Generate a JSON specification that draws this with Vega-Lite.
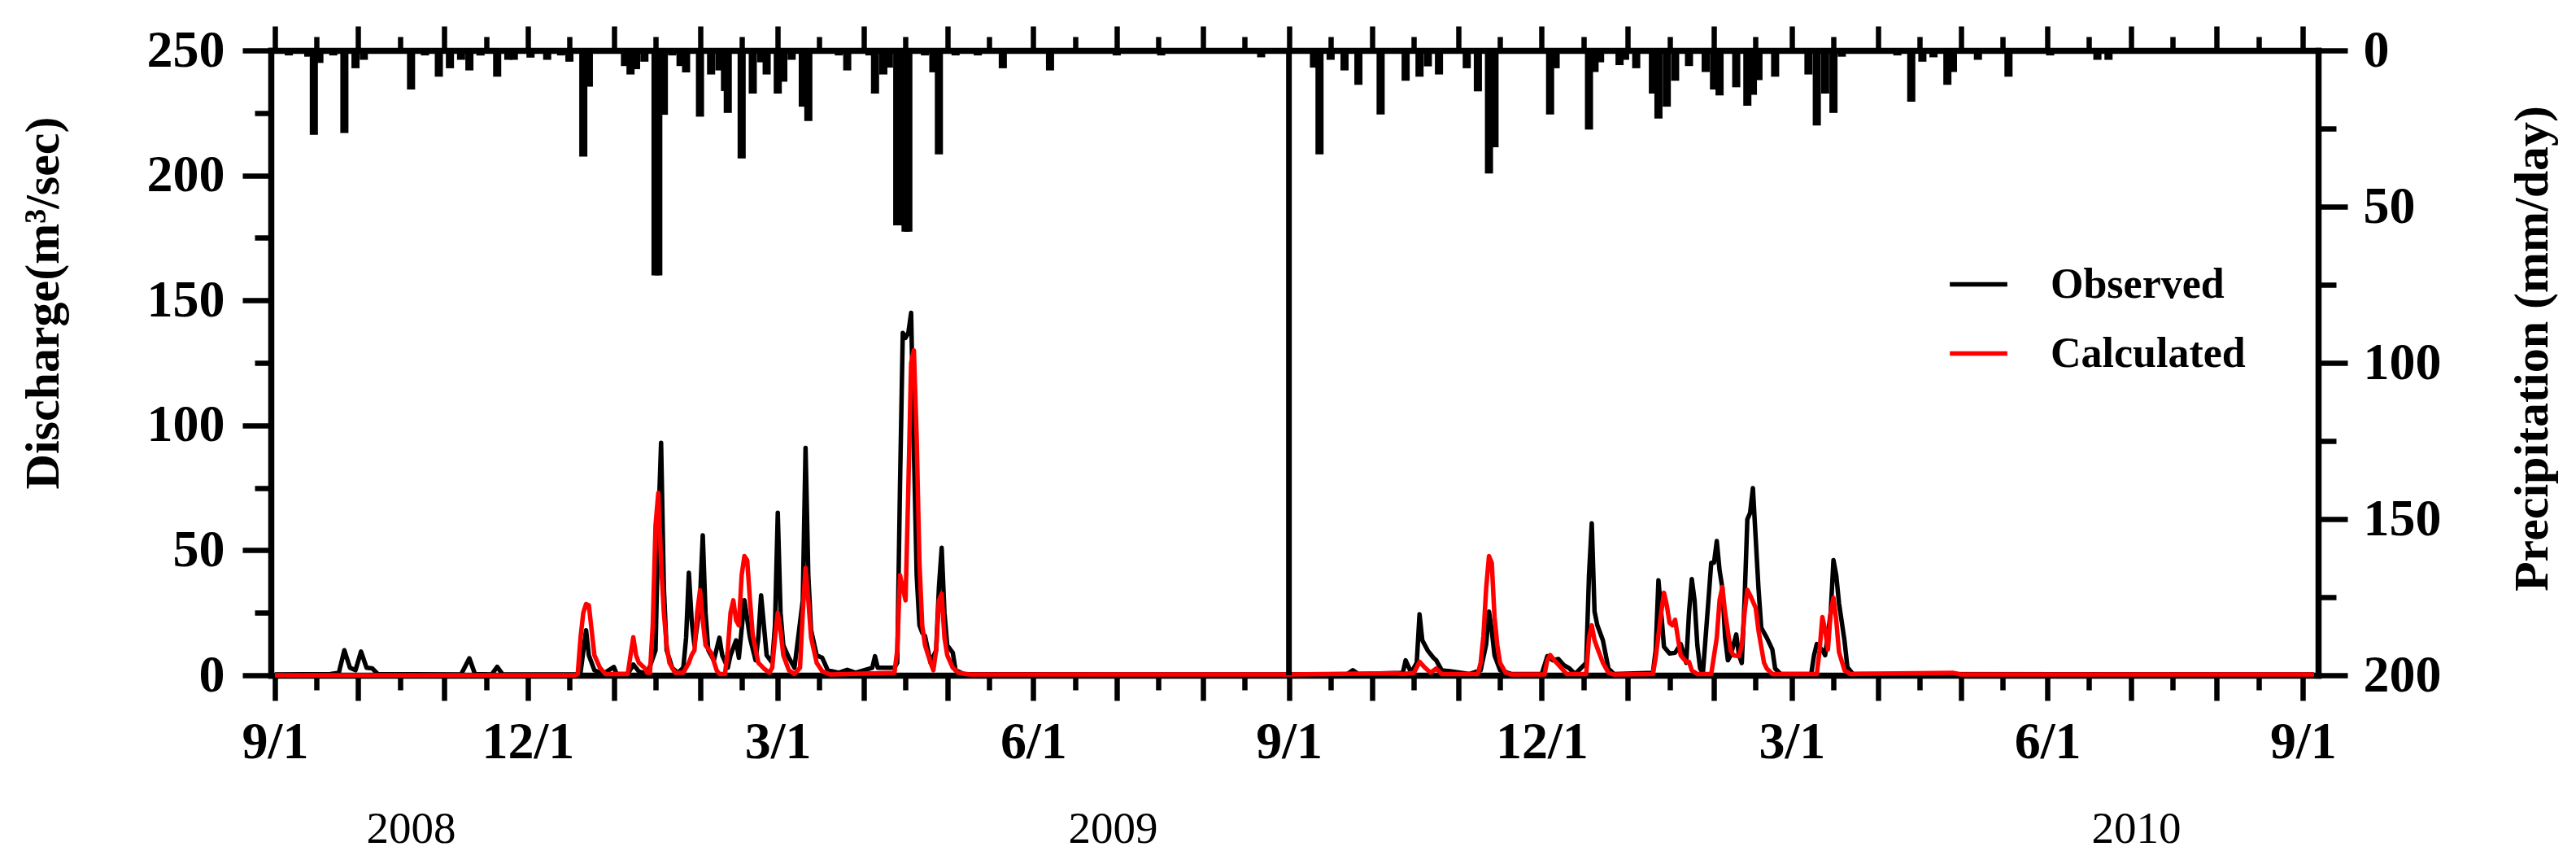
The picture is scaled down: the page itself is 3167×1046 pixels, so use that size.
{
  "$schema": "https://vega.github.io/schema/vega-lite/v6.json",
  "width": 2517,
  "height": 768,
  "autosize": "none",
  "padding": {"left": 333, "top": 62, "right": 317, "bottom": 216},
  "background": "#ffffff",
  "config": {
    "view": {"stroke": null},
    "axis": {
      "grid": false,
      "domainColor": "#000000",
      "tickColor": "#000000",
      "labelColor": "#000000",
      "titleColor": "#000000",
      "labelFont": "Liberation Serif",
      "titleFont": "Liberation Serif",
      "labelFontWeight": "bold",
      "titleFontWeight": "bold",
      "domainWidth": 7.5,
      "tickWidth": 6.5,
      "domainCap": "square",
      "labelOverlap": false,
      "labelFlush": false,
      "labelBound": false
    }
  },
  "datasets": {
    "rain": [
      {"date": "2008-09-06", "mm": 1.6}, {"date": "2008-09-13", "mm": 2}, {"date": "2008-09-15", "mm": 27}, {"date": "2008-09-17", "mm": 4},
      {"date": "2008-09-22", "mm": 1.6}, {"date": "2008-09-26", "mm": 26.4}, {"date": "2008-09-30", "mm": 5.7}, {"date": "2008-10-03", "mm": 3},
      {"date": "2008-10-20", "mm": 12.5}, {"date": "2008-10-25", "mm": 1.6}, {"date": "2008-10-30", "mm": 8.4}, {"date": "2008-11-03", "mm": 5.7},
      {"date": "2008-11-07", "mm": 3}, {"date": "2008-11-10", "mm": 6.4}, {"date": "2008-11-14", "mm": 1.6}, {"date": "2008-11-20", "mm": 8.4},
      {"date": "2008-11-24", "mm": 3}, {"date": "2008-11-26", "mm": 3}, {"date": "2008-12-02", "mm": 2.3}, {"date": "2008-12-08", "mm": 3},
      {"date": "2008-12-13", "mm": 1.6}, {"date": "2008-12-16", "mm": 3.6}, {"date": "2008-12-21", "mm": 34}, {"date": "2008-12-23", "mm": 11.6},
      {"date": "2009-01-05", "mm": 5}, {"date": "2009-01-07", "mm": 7.7}, {"date": "2009-01-09", "mm": 6}, {"date": "2009-01-12", "mm": 3.6},
      {"date": "2009-01-16", "mm": 72}, {"date": "2009-01-17", "mm": 72}, {"date": "2009-01-19", "mm": 20.6}, {"date": "2009-01-22", "mm": 1.6},
      {"date": "2009-01-25", "mm": 5}, {"date": "2009-01-27", "mm": 7}, {"date": "2009-02-01", "mm": 21.2}, {"date": "2009-02-05", "mm": 7.7},
      {"date": "2009-02-08", "mm": 6.4}, {"date": "2009-02-10", "mm": 13}, {"date": "2009-02-11", "mm": 20}, {"date": "2009-02-16", "mm": 34.6},
      {"date": "2009-02-20", "mm": 13.8}, {"date": "2009-02-23", "mm": 3.8}, {"date": "2009-02-25", "mm": 7.7}, {"date": "2009-03-01", "mm": 13.8},
      {"date": "2009-03-03", "mm": 10}, {"date": "2009-03-06", "mm": 3}, {"date": "2009-03-10", "mm": 18}, {"date": "2009-03-12", "mm": 22.6},
      {"date": "2009-03-23", "mm": 1.6}, {"date": "2009-03-26", "mm": 6.4}, {"date": "2009-04-03", "mm": 1.6}, {"date": "2009-04-05", "mm": 13.8},
      {"date": "2009-04-08", "mm": 7.7}, {"date": "2009-04-10", "mm": 5.5}, {"date": "2009-04-13", "mm": 56}, {"date": "2009-04-14", "mm": 56},
      {"date": "2009-04-15", "mm": 56}, {"date": "2009-04-16", "mm": 58}, {"date": "2009-04-17", "mm": 58}, {"date": "2009-04-23", "mm": 1.6},
      {"date": "2009-04-26", "mm": 7}, {"date": "2009-04-28", "mm": 33.3}, {"date": "2009-05-04", "mm": 1.6}, {"date": "2009-05-12", "mm": 1.6},
      {"date": "2009-05-21", "mm": 5.7}, {"date": "2009-06-07", "mm": 6.4}, {"date": "2009-07-01", "mm": 1.6}, {"date": "2009-07-17", "mm": 1.6},
      {"date": "2009-08-22", "mm": 2.2},
      {"date": "2009-09-10", "mm": 5.5}, {"date": "2009-09-12", "mm": 33.3}, {"date": "2009-09-16", "mm": 3}, {"date": "2009-09-21", "mm": 6.4},
      {"date": "2009-09-26", "mm": 11}, {"date": "2009-10-04", "mm": 20.5}, {"date": "2009-10-13", "mm": 9.7}, {"date": "2009-10-18", "mm": 8.4},
      {"date": "2009-10-21", "mm": 5.1}, {"date": "2009-10-25", "mm": 7.7}, {"date": "2009-11-04", "mm": 5.7}, {"date": "2009-11-08", "mm": 13.1},
      {"date": "2009-11-12", "mm": 39.4}, {"date": "2009-11-14", "mm": 31}, {"date": "2009-12-04", "mm": 20.5}, {"date": "2009-12-06", "mm": 5.7},
      {"date": "2009-12-18", "mm": 25.3}, {"date": "2009-12-20", "mm": 6.9}, {"date": "2009-12-22", "mm": 3.8}, {"date": "2009-12-29", "mm": 4.7},
      {"date": "2009-12-31", "mm": 3}, {"date": "2010-01-04", "mm": 5.7}, {"date": "2010-01-10", "mm": 13.8}, {"date": "2010-01-12", "mm": 21.8},
      {"date": "2010-01-15", "mm": 18}, {"date": "2010-01-18", "mm": 9.7}, {"date": "2010-01-23", "mm": 5}, {"date": "2010-01-29", "mm": 6.9},
      {"date": "2010-02-01", "mm": 12.5}, {"date": "2010-02-03", "mm": 14.4}, {"date": "2010-02-09", "mm": 11.8}, {"date": "2010-02-13", "mm": 17.7},
      {"date": "2010-02-15", "mm": 14.2}, {"date": "2010-02-17", "mm": 9.5}, {"date": "2010-02-23", "mm": 8.4}, {"date": "2010-03-07", "mm": 7.7},
      {"date": "2010-03-10", "mm": 24}, {"date": "2010-03-13", "mm": 13.8}, {"date": "2010-03-16", "mm": 20}, {"date": "2010-03-19", "mm": 2},
      {"date": "2010-04-08", "mm": 1.6}, {"date": "2010-04-13", "mm": 16.4}, {"date": "2010-04-17", "mm": 3.6}, {"date": "2010-04-21", "mm": 2.2},
      {"date": "2010-04-26", "mm": 11}, {"date": "2010-04-28", "mm": 6.9}, {"date": "2010-05-07", "mm": 3}, {"date": "2010-05-18", "mm": 8.4},
      {"date": "2010-06-02", "mm": 1.6}, {"date": "2010-06-19", "mm": 3}, {"date": "2010-06-23", "mm": 3}
    ],
    "flow": [
      {"date": "2008-09-01", "series": "Observed", "q": 0.3}, {"date": "2008-09-21", "series": "Observed", "q": 0.5},
      {"date": "2008-09-24", "series": "Observed", "q": 1}, {"date": "2008-09-26", "series": "Observed", "q": 10},
      {"date": "2008-09-28", "series": "Observed", "q": 3}, {"date": "2008-09-30", "series": "Observed", "q": 2},
      {"date": "2008-10-02", "series": "Observed", "q": 9.5}, {"date": "2008-10-04", "series": "Observed", "q": 3},
      {"date": "2008-10-06", "series": "Observed", "q": 2.8}, {"date": "2008-10-08", "series": "Observed", "q": 0.5},
      {"date": "2008-11-07", "series": "Observed", "q": 0.3}, {"date": "2008-11-10", "series": "Observed", "q": 6.8},
      {"date": "2008-11-12", "series": "Observed", "q": 0.5}, {"date": "2008-11-18", "series": "Observed", "q": 0.3},
      {"date": "2008-11-20", "series": "Observed", "q": 3.4}, {"date": "2008-11-22", "series": "Observed", "q": 0.3},
      {"date": "2008-12-18", "series": "Observed", "q": 0.3}, {"date": "2008-12-20", "series": "Observed", "q": 1},
      {"date": "2008-12-22", "series": "Observed", "q": 18}, {"date": "2008-12-23", "series": "Observed", "q": 8},
      {"date": "2008-12-25", "series": "Observed", "q": 2}, {"date": "2008-12-28", "series": "Observed", "q": 0.5},
      {"date": "2009-01-01", "series": "Observed", "q": 3.3}, {"date": "2009-01-02", "series": "Observed", "q": 0.5},
      {"date": "2009-01-06", "series": "Observed", "q": 0.5}, {"date": "2009-01-08", "series": "Observed", "q": 4.3},
      {"date": "2009-01-10", "series": "Observed", "q": 1.5}, {"date": "2009-01-13", "series": "Observed", "q": 0.5},
      {"date": "2009-01-16", "series": "Observed", "q": 10}, {"date": "2009-01-17", "series": "Observed", "q": 60},
      {"date": "2009-01-18", "series": "Observed", "q": 93}, {"date": "2009-01-19", "series": "Observed", "q": 35},
      {"date": "2009-01-20", "series": "Observed", "q": 10}, {"date": "2009-01-22", "series": "Observed", "q": 3},
      {"date": "2009-01-24", "series": "Observed", "q": 1}, {"date": "2009-01-26", "series": "Observed", "q": 3},
      {"date": "2009-01-27", "series": "Observed", "q": 15}, {"date": "2009-01-28", "series": "Observed", "q": 41},
      {"date": "2009-01-29", "series": "Observed", "q": 22}, {"date": "2009-01-30", "series": "Observed", "q": 12},
      {"date": "2009-01-31", "series": "Observed", "q": 20}, {"date": "2009-02-01", "series": "Observed", "q": 30},
      {"date": "2009-02-02", "series": "Observed", "q": 56}, {"date": "2009-02-03", "series": "Observed", "q": 25},
      {"date": "2009-02-04", "series": "Observed", "q": 10}, {"date": "2009-02-06", "series": "Observed", "q": 6},
      {"date": "2009-02-08", "series": "Observed", "q": 15}, {"date": "2009-02-09", "series": "Observed", "q": 8},
      {"date": "2009-02-11", "series": "Observed", "q": 3}, {"date": "2009-02-12", "series": "Observed", "q": 8},
      {"date": "2009-02-14", "series": "Observed", "q": 14}, {"date": "2009-02-15", "series": "Observed", "q": 7},
      {"date": "2009-02-17", "series": "Observed", "q": 30}, {"date": "2009-02-19", "series": "Observed", "q": 15},
      {"date": "2009-02-21", "series": "Observed", "q": 6}, {"date": "2009-02-22", "series": "Observed", "q": 15},
      {"date": "2009-02-23", "series": "Observed", "q": 32}, {"date": "2009-02-24", "series": "Observed", "q": 20},
      {"date": "2009-02-25", "series": "Observed", "q": 8}, {"date": "2009-02-27", "series": "Observed", "q": 5},
      {"date": "2009-02-28", "series": "Observed", "q": 20}, {"date": "2009-03-01", "series": "Observed", "q": 65},
      {"date": "2009-03-02", "series": "Observed", "q": 25}, {"date": "2009-03-03", "series": "Observed", "q": 12},
      {"date": "2009-03-05", "series": "Observed", "q": 7}, {"date": "2009-03-07", "series": "Observed", "q": 3},
      {"date": "2009-03-10", "series": "Observed", "q": 30}, {"date": "2009-03-11", "series": "Observed", "q": 91},
      {"date": "2009-03-12", "series": "Observed", "q": 40}, {"date": "2009-03-13", "series": "Observed", "q": 18},
      {"date": "2009-03-15", "series": "Observed", "q": 8}, {"date": "2009-03-17", "series": "Observed", "q": 7},
      {"date": "2009-03-19", "series": "Observed", "q": 2}, {"date": "2009-03-23", "series": "Observed", "q": 1},
      {"date": "2009-03-26", "series": "Observed", "q": 2.2}, {"date": "2009-03-29", "series": "Observed", "q": 1},
      {"date": "2009-04-04", "series": "Observed", "q": 3}, {"date": "2009-04-05", "series": "Observed", "q": 7.6},
      {"date": "2009-04-06", "series": "Observed", "q": 3}, {"date": "2009-04-09", "series": "Observed", "q": 3},
      {"date": "2009-04-12", "series": "Observed", "q": 3}, {"date": "2009-04-13", "series": "Observed", "q": 5},
      {"date": "2009-04-14", "series": "Observed", "q": 76}, {"date": "2009-04-15", "series": "Observed", "q": 137},
      {"date": "2009-04-16", "series": "Observed", "q": 135}, {"date": "2009-04-17", "series": "Observed", "q": 137},
      {"date": "2009-04-18", "series": "Observed", "q": 145}, {"date": "2009-04-19", "series": "Observed", "q": 90},
      {"date": "2009-04-20", "series": "Observed", "q": 40}, {"date": "2009-04-21", "series": "Observed", "q": 20},
      {"date": "2009-04-22", "series": "Observed", "q": 17}, {"date": "2009-04-23", "series": "Observed", "q": 15.7},
      {"date": "2009-04-25", "series": "Observed", "q": 5}, {"date": "2009-04-27", "series": "Observed", "q": 10},
      {"date": "2009-04-28", "series": "Observed", "q": 35}, {"date": "2009-04-29", "series": "Observed", "q": 51},
      {"date": "2009-04-30", "series": "Observed", "q": 25}, {"date": "2009-05-01", "series": "Observed", "q": 12},
      {"date": "2009-05-03", "series": "Observed", "q": 9}, {"date": "2009-05-04", "series": "Observed", "q": 2},
      {"date": "2009-05-07", "series": "Observed", "q": 0.5}, {"date": "2009-06-28", "series": "Observed", "q": 0.3},
      {"date": "2009-09-01", "series": "Observed", "q": 0.3}, {"date": "2009-09-22", "series": "Observed", "q": 0.5},
      {"date": "2009-09-24", "series": "Observed", "q": 2}, {"date": "2009-09-26", "series": "Observed", "q": 0.5},
      {"date": "2009-10-12", "series": "Observed", "q": 1}, {"date": "2009-10-13", "series": "Observed", "q": 6},
      {"date": "2009-10-15", "series": "Observed", "q": 1}, {"date": "2009-10-17", "series": "Observed", "q": 5},
      {"date": "2009-10-18", "series": "Observed", "q": 24.4}, {"date": "2009-10-19", "series": "Observed", "q": 14},
      {"date": "2009-10-21", "series": "Observed", "q": 9.8}, {"date": "2009-10-23", "series": "Observed", "q": 7},
      {"date": "2009-10-24", "series": "Observed", "q": 6}, {"date": "2009-10-26", "series": "Observed", "q": 2},
      {"date": "2009-10-29", "series": "Observed", "q": 1.6}, {"date": "2009-11-05", "series": "Observed", "q": 0.5},
      {"date": "2009-11-09", "series": "Observed", "q": 2}, {"date": "2009-11-11", "series": "Observed", "q": 12.5},
      {"date": "2009-11-12", "series": "Observed", "q": 25.5}, {"date": "2009-11-13", "series": "Observed", "q": 18},
      {"date": "2009-11-14", "series": "Observed", "q": 8}, {"date": "2009-11-16", "series": "Observed", "q": 2},
      {"date": "2009-11-20", "series": "Observed", "q": 0.5}, {"date": "2009-12-01", "series": "Observed", "q": 0.5},
      {"date": "2009-12-03", "series": "Observed", "q": 7.6}, {"date": "2009-12-05", "series": "Observed", "q": 6},
      {"date": "2009-12-07", "series": "Observed", "q": 6.5}, {"date": "2009-12-09", "series": "Observed", "q": 4},
      {"date": "2009-12-11", "series": "Observed", "q": 2.7}, {"date": "2009-12-13", "series": "Observed", "q": 0.5},
      {"date": "2009-12-17", "series": "Observed", "q": 5}, {"date": "2009-12-18", "series": "Observed", "q": 40},
      {"date": "2009-12-19", "series": "Observed", "q": 60.8}, {"date": "2009-12-20", "series": "Observed", "q": 25.5},
      {"date": "2009-12-21", "series": "Observed", "q": 20}, {"date": "2009-12-23", "series": "Observed", "q": 14},
      {"date": "2009-12-25", "series": "Observed", "q": 2.7}, {"date": "2009-12-27", "series": "Observed", "q": 0.5},
      {"date": "2010-01-10", "series": "Observed", "q": 1}, {"date": "2010-01-11", "series": "Observed", "q": 10},
      {"date": "2010-01-12", "series": "Observed", "q": 38}, {"date": "2010-01-13", "series": "Observed", "q": 25},
      {"date": "2010-01-14", "series": "Observed", "q": 11.4}, {"date": "2010-01-16", "series": "Observed", "q": 8.7},
      {"date": "2010-01-18", "series": "Observed", "q": 9}, {"date": "2010-01-20", "series": "Observed", "q": 12.5},
      {"date": "2010-01-22", "series": "Observed", "q": 5}, {"date": "2010-01-23", "series": "Observed", "q": 25},
      {"date": "2010-01-24", "series": "Observed", "q": 38.5}, {"date": "2010-01-25", "series": "Observed", "q": 30},
      {"date": "2010-01-26", "series": "Observed", "q": 12}, {"date": "2010-01-27", "series": "Observed", "q": 2.7},
      {"date": "2010-01-28", "series": "Observed", "q": 1}, {"date": "2010-01-30", "series": "Observed", "q": 30},
      {"date": "2010-01-31", "series": "Observed", "q": 45}, {"date": "2010-02-01", "series": "Observed", "q": 45},
      {"date": "2010-02-02", "series": "Observed", "q": 53.7}, {"date": "2010-02-03", "series": "Observed", "q": 42},
      {"date": "2010-02-04", "series": "Observed", "q": 35}, {"date": "2010-02-05", "series": "Observed", "q": 15},
      {"date": "2010-02-06", "series": "Observed", "q": 6}, {"date": "2010-02-07", "series": "Observed", "q": 8},
      {"date": "2010-02-09", "series": "Observed", "q": 16.3}, {"date": "2010-02-10", "series": "Observed", "q": 8},
      {"date": "2010-02-11", "series": "Observed", "q": 4.9}, {"date": "2010-02-12", "series": "Observed", "q": 30},
      {"date": "2010-02-13", "series": "Observed", "q": 62.4}, {"date": "2010-02-14", "series": "Observed", "q": 65},
      {"date": "2010-02-15", "series": "Observed", "q": 74.9}, {"date": "2010-02-16", "series": "Observed", "q": 55},
      {"date": "2010-02-17", "series": "Observed", "q": 35}, {"date": "2010-02-18", "series": "Observed", "q": 19},
      {"date": "2010-02-20", "series": "Observed", "q": 15}, {"date": "2010-02-22", "series": "Observed", "q": 10.3},
      {"date": "2010-02-23", "series": "Observed", "q": 2.7}, {"date": "2010-02-25", "series": "Observed", "q": 0.5},
      {"date": "2010-03-08", "series": "Observed", "q": 0.5}, {"date": "2010-03-09", "series": "Observed", "q": 8},
      {"date": "2010-03-10", "series": "Observed", "q": 12.5}, {"date": "2010-03-12", "series": "Observed", "q": 10},
      {"date": "2010-03-13", "series": "Observed", "q": 8}, {"date": "2010-03-15", "series": "Observed", "q": 25},
      {"date": "2010-03-16", "series": "Observed", "q": 46.1}, {"date": "2010-03-17", "series": "Observed", "q": 40},
      {"date": "2010-03-18", "series": "Observed", "q": 28.8}, {"date": "2010-03-20", "series": "Observed", "q": 13.6},
      {"date": "2010-03-21", "series": "Observed", "q": 3.3}, {"date": "2010-03-23", "series": "Observed", "q": 0.5},
      {"date": "2010-09-05", "series": "Observed", "q": 0.3},
      {"date": "2008-09-01", "series": "Calculated", "q": 0}, {"date": "2008-12-18", "series": "Calculated", "q": 0},
      {"date": "2008-12-19", "series": "Calculated", "q": 0.5}, {"date": "2008-12-20", "series": "Calculated", "q": 15},
      {"date": "2008-12-21", "series": "Calculated", "q": 25}, {"date": "2008-12-22", "series": "Calculated", "q": 28.5},
      {"date": "2008-12-23", "series": "Calculated", "q": 28}, {"date": "2008-12-24", "series": "Calculated", "q": 18},
      {"date": "2008-12-25", "series": "Calculated", "q": 8}, {"date": "2008-12-27", "series": "Calculated", "q": 3},
      {"date": "2008-12-29", "series": "Calculated", "q": 0.5}, {"date": "2009-01-06", "series": "Calculated", "q": 0.5},
      {"date": "2009-01-07", "series": "Calculated", "q": 8}, {"date": "2009-01-08", "series": "Calculated", "q": 15.2},
      {"date": "2009-01-09", "series": "Calculated", "q": 8}, {"date": "2009-01-10", "series": "Calculated", "q": 5},
      {"date": "2009-01-12", "series": "Calculated", "q": 3}, {"date": "2009-01-13", "series": "Calculated", "q": 1},
      {"date": "2009-01-14", "series": "Calculated", "q": 1}, {"date": "2009-01-15", "series": "Calculated", "q": 20},
      {"date": "2009-01-16", "series": "Calculated", "q": 60}, {"date": "2009-01-17", "series": "Calculated", "q": 73},
      {"date": "2009-01-18", "series": "Calculated", "q": 45}, {"date": "2009-01-19", "series": "Calculated", "q": 25},
      {"date": "2009-01-20", "series": "Calculated", "q": 12}, {"date": "2009-01-21", "series": "Calculated", "q": 5},
      {"date": "2009-01-23", "series": "Calculated", "q": 1}, {"date": "2009-01-26", "series": "Calculated", "q": 1},
      {"date": "2009-01-28", "series": "Calculated", "q": 5}, {"date": "2009-01-29", "series": "Calculated", "q": 8.1},
      {"date": "2009-01-30", "series": "Calculated", "q": 10}, {"date": "2009-01-31", "series": "Calculated", "q": 25},
      {"date": "2009-02-01", "series": "Calculated", "q": 34}, {"date": "2009-02-02", "series": "Calculated", "q": 22},
      {"date": "2009-02-03", "series": "Calculated", "q": 12}, {"date": "2009-02-05", "series": "Calculated", "q": 9},
      {"date": "2009-02-07", "series": "Calculated", "q": 2}, {"date": "2009-02-08", "series": "Calculated", "q": 0.5},
      {"date": "2009-02-10", "series": "Calculated", "q": 0.5}, {"date": "2009-02-11", "series": "Calculated", "q": 10},
      {"date": "2009-02-12", "series": "Calculated", "q": 25}, {"date": "2009-02-13", "series": "Calculated", "q": 30},
      {"date": "2009-02-14", "series": "Calculated", "q": 22}, {"date": "2009-02-15", "series": "Calculated", "q": 20},
      {"date": "2009-02-16", "series": "Calculated", "q": 40}, {"date": "2009-02-17", "series": "Calculated", "q": 47.7},
      {"date": "2009-02-18", "series": "Calculated", "q": 46}, {"date": "2009-02-19", "series": "Calculated", "q": 30},
      {"date": "2009-02-20", "series": "Calculated", "q": 16}, {"date": "2009-02-22", "series": "Calculated", "q": 5},
      {"date": "2009-02-24", "series": "Calculated", "q": 2.7}, {"date": "2009-02-26", "series": "Calculated", "q": 1},
      {"date": "2009-02-27", "series": "Calculated", "q": 3}, {"date": "2009-02-28", "series": "Calculated", "q": 15},
      {"date": "2009-03-01", "series": "Calculated", "q": 25}, {"date": "2009-03-02", "series": "Calculated", "q": 18},
      {"date": "2009-03-03", "series": "Calculated", "q": 8}, {"date": "2009-03-05", "series": "Calculated", "q": 2},
      {"date": "2009-03-07", "series": "Calculated", "q": 0.5}, {"date": "2009-03-09", "series": "Calculated", "q": 3},
      {"date": "2009-03-10", "series": "Calculated", "q": 25}, {"date": "2009-03-11", "series": "Calculated", "q": 43},
      {"date": "2009-03-12", "series": "Calculated", "q": 30}, {"date": "2009-03-13", "series": "Calculated", "q": 15},
      {"date": "2009-03-15", "series": "Calculated", "q": 5}, {"date": "2009-03-17", "series": "Calculated", "q": 1.6},
      {"date": "2009-03-20", "series": "Calculated", "q": 0.3}, {"date": "2009-04-12", "series": "Calculated", "q": 1},
      {"date": "2009-04-13", "series": "Calculated", "q": 10}, {"date": "2009-04-14", "series": "Calculated", "q": 40},
      {"date": "2009-04-15", "series": "Calculated", "q": 35}, {"date": "2009-04-16", "series": "Calculated", "q": 30},
      {"date": "2009-04-17", "series": "Calculated", "q": 75}, {"date": "2009-04-18", "series": "Calculated", "q": 125},
      {"date": "2009-04-19", "series": "Calculated", "q": 130}, {"date": "2009-04-20", "series": "Calculated", "q": 95},
      {"date": "2009-04-21", "series": "Calculated", "q": 45}, {"date": "2009-04-22", "series": "Calculated", "q": 20},
      {"date": "2009-04-23", "series": "Calculated", "q": 12}, {"date": "2009-04-25", "series": "Calculated", "q": 5},
      {"date": "2009-04-26", "series": "Calculated", "q": 2}, {"date": "2009-04-27", "series": "Calculated", "q": 10},
      {"date": "2009-04-28", "series": "Calculated", "q": 30}, {"date": "2009-04-29", "series": "Calculated", "q": 32.6},
      {"date": "2009-04-30", "series": "Calculated", "q": 15}, {"date": "2009-05-01", "series": "Calculated", "q": 8},
      {"date": "2009-05-03", "series": "Calculated", "q": 3}, {"date": "2009-05-05", "series": "Calculated", "q": 1},
      {"date": "2009-05-09", "series": "Calculated", "q": 0.3}, {"date": "2009-09-01", "series": "Calculated", "q": 0.3},
      {"date": "2009-10-09", "series": "Calculated", "q": 0.8}, {"date": "2009-10-12", "series": "Calculated", "q": 0.5},
      {"date": "2009-10-16", "series": "Calculated", "q": 1}, {"date": "2009-10-18", "series": "Calculated", "q": 5.4},
      {"date": "2009-10-20", "series": "Calculated", "q": 3}, {"date": "2009-10-22", "series": "Calculated", "q": 1},
      {"date": "2009-10-24", "series": "Calculated", "q": 2.7}, {"date": "2009-10-26", "series": "Calculated", "q": 0.5},
      {"date": "2009-11-08", "series": "Calculated", "q": 0.5}, {"date": "2009-11-09", "series": "Calculated", "q": 5},
      {"date": "2009-11-10", "series": "Calculated", "q": 15.7}, {"date": "2009-11-11", "series": "Calculated", "q": 35},
      {"date": "2009-11-12", "series": "Calculated", "q": 47.7}, {"date": "2009-11-13", "series": "Calculated", "q": 45},
      {"date": "2009-11-14", "series": "Calculated", "q": 23.3}, {"date": "2009-11-15", "series": "Calculated", "q": 12},
      {"date": "2009-11-16", "series": "Calculated", "q": 4.9}, {"date": "2009-11-18", "series": "Calculated", "q": 1},
      {"date": "2009-11-20", "series": "Calculated", "q": 0.3}, {"date": "2009-12-02", "series": "Calculated", "q": 0.3},
      {"date": "2009-12-03", "series": "Calculated", "q": 6}, {"date": "2009-12-04", "series": "Calculated", "q": 8.1},
      {"date": "2009-12-06", "series": "Calculated", "q": 5.4}, {"date": "2009-12-08", "series": "Calculated", "q": 3},
      {"date": "2009-12-10", "series": "Calculated", "q": 0.5}, {"date": "2009-12-17", "series": "Calculated", "q": 0.5},
      {"date": "2009-12-18", "series": "Calculated", "q": 15}, {"date": "2009-12-19", "series": "Calculated", "q": 20},
      {"date": "2009-12-20", "series": "Calculated", "q": 14}, {"date": "2009-12-21", "series": "Calculated", "q": 10.9},
      {"date": "2009-12-23", "series": "Calculated", "q": 5}, {"date": "2009-12-25", "series": "Calculated", "q": 1},
      {"date": "2009-12-27", "series": "Calculated", "q": 0.3}, {"date": "2010-01-10", "series": "Calculated", "q": 0.5},
      {"date": "2010-01-11", "series": "Calculated", "q": 7}, {"date": "2010-01-13", "series": "Calculated", "q": 25},
      {"date": "2010-01-14", "series": "Calculated", "q": 33}, {"date": "2010-01-15", "series": "Calculated", "q": 28},
      {"date": "2010-01-16", "series": "Calculated", "q": 21}, {"date": "2010-01-17", "series": "Calculated", "q": 20},
      {"date": "2010-01-18", "series": "Calculated", "q": 22.2}, {"date": "2010-01-19", "series": "Calculated", "q": 15},
      {"date": "2010-01-20", "series": "Calculated", "q": 8}, {"date": "2010-01-22", "series": "Calculated", "q": 5.4},
      {"date": "2010-01-23", "series": "Calculated", "q": 5.4}, {"date": "2010-01-24", "series": "Calculated", "q": 2},
      {"date": "2010-01-26", "series": "Calculated", "q": 0.5}, {"date": "2010-01-31", "series": "Calculated", "q": 0.5},
      {"date": "2010-02-02", "series": "Calculated", "q": 15}, {"date": "2010-02-03", "series": "Calculated", "q": 30},
      {"date": "2010-02-04", "series": "Calculated", "q": 35.3}, {"date": "2010-02-05", "series": "Calculated", "q": 25},
      {"date": "2010-02-07", "series": "Calculated", "q": 10}, {"date": "2010-02-08", "series": "Calculated", "q": 8},
      {"date": "2010-02-10", "series": "Calculated", "q": 7.6}, {"date": "2010-02-11", "series": "Calculated", "q": 12},
      {"date": "2010-02-12", "series": "Calculated", "q": 25}, {"date": "2010-02-13", "series": "Calculated", "q": 34.2},
      {"date": "2010-02-14", "series": "Calculated", "q": 32}, {"date": "2010-02-16", "series": "Calculated", "q": 27},
      {"date": "2010-02-17", "series": "Calculated", "q": 18}, {"date": "2010-02-19", "series": "Calculated", "q": 5},
      {"date": "2010-02-20", "series": "Calculated", "q": 2.7}, {"date": "2010-02-22", "series": "Calculated", "q": 0.5},
      {"date": "2010-03-10", "series": "Calculated", "q": 0.5}, {"date": "2010-03-11", "series": "Calculated", "q": 10},
      {"date": "2010-03-12", "series": "Calculated", "q": 23.3}, {"date": "2010-03-13", "series": "Calculated", "q": 18},
      {"date": "2010-03-14", "series": "Calculated", "q": 10.3}, {"date": "2010-03-15", "series": "Calculated", "q": 25},
      {"date": "2010-03-16", "series": "Calculated", "q": 31}, {"date": "2010-03-17", "series": "Calculated", "q": 22},
      {"date": "2010-03-18", "series": "Calculated", "q": 9.2}, {"date": "2010-03-20", "series": "Calculated", "q": 2},
      {"date": "2010-03-22", "series": "Calculated", "q": 0.5}, {"date": "2010-04-28", "series": "Calculated", "q": 1},
      {"date": "2010-05-01", "series": "Calculated", "q": 0.3}, {"date": "2010-09-05", "series": "Calculated", "q": 0.3}
    ]
  },
  "layer": [
    {
      "data": {"name": "rain"},
      "mark": {"type": "bar", "width": 10, "color": "#000000"},
      "encoding": {
        "x": {
          "field": "date", "type": "temporal",
          "scale": {"type": "utc", "domain": [{"year": 2008, "month": 9, "date": 1, "utc": true}, {"year": 2010, "month": 9, "date": 5, "utc": true}]},
          "axis": {
            "orient": "bottom",
            "values": [
              {"year": 2008, "month": 9, "date": 1, "utc": true}, {"year": 2008, "month": 10, "date": 1, "utc": true}, {"year": 2008, "month": 11, "date": 1, "utc": true}, {"year": 2008, "month": 12, "date": 1, "utc": true},
              {"year": 2009, "month": 1, "date": 1, "utc": true}, {"year": 2009, "month": 2, "date": 1, "utc": true}, {"year": 2009, "month": 3, "date": 1, "utc": true}, {"year": 2009, "month": 4, "date": 1, "utc": true},
              {"year": 2009, "month": 5, "date": 1, "utc": true}, {"year": 2009, "month": 6, "date": 1, "utc": true}, {"year": 2009, "month": 7, "date": 1, "utc": true}, {"year": 2009, "month": 8, "date": 1, "utc": true},
              {"year": 2009, "month": 9, "date": 1, "utc": true}, {"year": 2009, "month": 10, "date": 1, "utc": true}, {"year": 2009, "month": 11, "date": 1, "utc": true}, {"year": 2009, "month": 12, "date": 1, "utc": true},
              {"year": 2010, "month": 1, "date": 1, "utc": true}, {"year": 2010, "month": 2, "date": 1, "utc": true}, {"year": 2010, "month": 3, "date": 1, "utc": true}, {"year": 2010, "month": 4, "date": 1, "utc": true},
              {"year": 2010, "month": 5, "date": 1, "utc": true}, {"year": 2010, "month": 6, "date": 1, "utc": true}, {"year": 2010, "month": 7, "date": 1, "utc": true}, {"year": 2010, "month": 8, "date": 1, "utc": true},
              {"year": 2010, "month": 9, "date": 1, "utc": true}
            ],
            "labelExpr": "indexof([2,5,8,11], utcmonth(datum.value)) >= 0 ? utcFormat(datum.value, '%-m/%-d') : ''",
            "labelFontSize": 64,
            "labelPadding": 19,
            "tickSize": 31,
            "title": "2008",
            "titleX": 172,
            "titleY": 188,
            "titleAngle": 0,
            "titleAlign": "center",
            "titleBaseline": "middle",
            "titleFontSize": 55,
            "titleFontWeight": "normal"
          }
        },
        "y": {
          "field": "mm", "type": "quantitative",
          "scale": {"domain": [0, 200], "reverse": true},
          "axis": {
            "orient": "right",
            "values": [0, 50, 100, 150, 200],
            "tickSize": 36,
            "labelPadding": 19,
            "labelFontSize": 64,
            "labelBaseline": "middle",
            "title": "Precipitation (mm/day)",
            "titleFontSize": 60,
            "titleAngle": 270,
            "titleX": 263,
            "titleY": 366,
            "titleAlign": "center",
            "titleBaseline": "middle"
          }
        }
      }
    },
    {
      "data": {"name": "flow"},
      "mark": {"type": "line", "strokeWidth": 5.5, "strokeJoin": "round"},
      "encoding": {
        "x": {
          "field": "date", "type": "temporal",
          "scale": {"type": "utc", "domain": [{"year": 2008, "month": 9, "date": 1, "utc": true}, {"year": 2010, "month": 9, "date": 5, "utc": true}]},
          "axis": {
            "orient": "top",
            "values": [
              {"year": 2008, "month": 9, "date": 1, "utc": true}, {"year": 2008, "month": 10, "date": 1, "utc": true}, {"year": 2008, "month": 11, "date": 1, "utc": true}, {"year": 2008, "month": 12, "date": 1, "utc": true},
              {"year": 2009, "month": 1, "date": 1, "utc": true}, {"year": 2009, "month": 2, "date": 1, "utc": true}, {"year": 2009, "month": 3, "date": 1, "utc": true}, {"year": 2009, "month": 4, "date": 1, "utc": true},
              {"year": 2009, "month": 5, "date": 1, "utc": true}, {"year": 2009, "month": 6, "date": 1, "utc": true}, {"year": 2009, "month": 7, "date": 1, "utc": true}, {"year": 2009, "month": 8, "date": 1, "utc": true},
              {"year": 2009, "month": 9, "date": 1, "utc": true}, {"year": 2009, "month": 10, "date": 1, "utc": true}, {"year": 2009, "month": 11, "date": 1, "utc": true}, {"year": 2009, "month": 12, "date": 1, "utc": true},
              {"year": 2010, "month": 1, "date": 1, "utc": true}, {"year": 2010, "month": 2, "date": 1, "utc": true}, {"year": 2010, "month": 3, "date": 1, "utc": true}, {"year": 2010, "month": 4, "date": 1, "utc": true},
              {"year": 2010, "month": 5, "date": 1, "utc": true}, {"year": 2010, "month": 6, "date": 1, "utc": true}, {"year": 2010, "month": 7, "date": 1, "utc": true}, {"year": 2010, "month": 8, "date": 1, "utc": true},
              {"year": 2010, "month": 9, "date": 1, "utc": true}
            ],
            "labels": false,
            "tickSize": 30,
            "title": null
          }
        },
        "y": {
          "field": "q", "type": "quantitative",
          "scale": {"domain": [0, 250]},
          "axis": {
            "orient": "left",
            "values": [0, 50, 100, 150, 200, 250],
            "tickSize": 35,
            "labelPadding": 22,
            "labelFontSize": 64,
            "labelBaseline": "middle",
            "title": "Discharge(m³/sec)",
            "titleFontSize": 60,
            "titleAngle": 270,
            "titleX": -280,
            "titleY": 310,
            "titleAlign": "center",
            "titleBaseline": "middle"
          }
        },
        "color": {
          "field": "series", "type": "nominal",
          "scale": {"domain": ["Observed", "Calculated"], "range": ["#000000", "#ff0000"]},
          "legend": {
            "orient": "none",
            "legendX": 2061,
            "legendY": 249,
            "title": null,
            "symbolType": "stroke",
            "symbolSize": 5000,
            "symbolStrokeWidth": 5.5,
            "labelFont": "Liberation Serif",
            "labelFontWeight": "bold",
            "labelFontSize": 52,
            "labelColor": "#000000",
            "labelLimit": 0,
            "labelOffset": 50,
            "rowPadding": 20,
            "padding": 0
          }
        }
      }
    },
    {
      "data": {"name": "flow"},
      "mark": {"type": "point", "opacity": 0},
      "encoding": {
        "x": {
          "field": "date", "type": "temporal",
          "scale": {"type": "utc", "domain": [{"year": 2008, "month": 9, "date": 1, "utc": true}, {"year": 2010, "month": 9, "date": 5, "utc": true}]},
          "axis": {
            "orient": "bottom",
            "values": [
              {"year": 2008, "month": 9, "date": 16, "utc": true}, {"year": 2008, "month": 10, "date": 16, "utc": true}, {"year": 2008, "month": 11, "date": 16, "utc": true}, {"year": 2008, "month": 12, "date": 16, "utc": true},
              {"year": 2009, "month": 1, "date": 16, "utc": true}, {"year": 2009, "month": 2, "date": 16, "utc": true}, {"year": 2009, "month": 3, "date": 16, "utc": true}, {"year": 2009, "month": 4, "date": 16, "utc": true},
              {"year": 2009, "month": 5, "date": 16, "utc": true}, {"year": 2009, "month": 6, "date": 16, "utc": true}, {"year": 2009, "month": 7, "date": 16, "utc": true}, {"year": 2009, "month": 8, "date": 16, "utc": true},
              {"year": 2009, "month": 9, "date": 16, "utc": true}, {"year": 2009, "month": 10, "date": 16, "utc": true}, {"year": 2009, "month": 11, "date": 16, "utc": true}, {"year": 2009, "month": 12, "date": 16, "utc": true},
              {"year": 2010, "month": 1, "date": 16, "utc": true}, {"year": 2010, "month": 2, "date": 16, "utc": true}, {"year": 2010, "month": 3, "date": 16, "utc": true}, {"year": 2010, "month": 4, "date": 16, "utc": true},
              {"year": 2010, "month": 5, "date": 16, "utc": true}, {"year": 2010, "month": 6, "date": 16, "utc": true}, {"year": 2010, "month": 7, "date": 16, "utc": true}, {"year": 2010, "month": 8, "date": 16, "utc": true}
            ],
            "labels": false,
            "domain": false,
            "tickSize": 18,
            "title": "2009",
            "titleX": 1035,
            "titleY": 188,
            "titleAngle": 0,
            "titleAlign": "center",
            "titleBaseline": "middle",
            "titleFontSize": 55,
            "titleFontWeight": "normal"
          }
        },
        "y": {
          "field": "q", "type": "quantitative",
          "scale": {"domain": [0, 250]},
          "axis": {"orient": "left", "values": [25, 75, 125, 175, 225], "labels": false, "domain": false, "tickSize": 20, "title": null}
        }
      }
    },
    {
      "data": {"name": "rain"},
      "mark": {"type": "point", "opacity": 0},
      "encoding": {
        "x": {
          "field": "date", "type": "temporal",
          "scale": {"type": "utc", "domain": [{"year": 2008, "month": 9, "date": 1, "utc": true}, {"year": 2010, "month": 9, "date": 5, "utc": true}]},
          "axis": {
            "orient": "top",
            "values": [
              {"year": 2008, "month": 9, "date": 16, "utc": true}, {"year": 2008, "month": 10, "date": 16, "utc": true}, {"year": 2008, "month": 11, "date": 16, "utc": true}, {"year": 2008, "month": 12, "date": 16, "utc": true},
              {"year": 2009, "month": 1, "date": 16, "utc": true}, {"year": 2009, "month": 2, "date": 16, "utc": true}, {"year": 2009, "month": 3, "date": 16, "utc": true}, {"year": 2009, "month": 4, "date": 16, "utc": true},
              {"year": 2009, "month": 5, "date": 16, "utc": true}, {"year": 2009, "month": 6, "date": 16, "utc": true}, {"year": 2009, "month": 7, "date": 16, "utc": true}, {"year": 2009, "month": 8, "date": 16, "utc": true},
              {"year": 2009, "month": 9, "date": 16, "utc": true}, {"year": 2009, "month": 10, "date": 16, "utc": true}, {"year": 2009, "month": 11, "date": 16, "utc": true}, {"year": 2009, "month": 12, "date": 16, "utc": true},
              {"year": 2010, "month": 1, "date": 16, "utc": true}, {"year": 2010, "month": 2, "date": 16, "utc": true}, {"year": 2010, "month": 3, "date": 16, "utc": true}, {"year": 2010, "month": 4, "date": 16, "utc": true},
              {"year": 2010, "month": 5, "date": 16, "utc": true}, {"year": 2010, "month": 6, "date": 16, "utc": true}, {"year": 2010, "month": 7, "date": 16, "utc": true}, {"year": 2010, "month": 8, "date": 16, "utc": true}
            ],
            "labels": false,
            "domain": false,
            "tickSize": 17,
            "title": "2010",
            "titleX": 2293,
            "titleY": 956,
            "titleAngle": 0,
            "titleAlign": "center",
            "titleBaseline": "middle",
            "titleFontSize": 55,
            "titleFontWeight": "normal"
          }
        },
        "y": {
          "field": "mm", "type": "quantitative",
          "scale": {"domain": [0, 200], "reverse": true},
          "axis": {"orient": "right", "values": [25, 75, 125, 175], "labels": false, "domain": false, "tickSize": 22, "title": null}
        }
      }
    },
    {
      "data": {"values": [{"date": "2009-09-01"}]},
      "mark": {"type": "rule", "strokeWidth": 7, "color": "#000000"},
      "encoding": {
        "x": {
          "field": "date", "type": "temporal",
          "scale": {"type": "utc", "domain": [{"year": 2008, "month": 9, "date": 1, "utc": true}, {"year": 2010, "month": 9, "date": 5, "utc": true}]},
          "axis": null
        }
      }
    }
  ],
  "resolve": {"scale": {"y": "independent"}, "axis": {"x": "independent", "y": "independent"}}
}
